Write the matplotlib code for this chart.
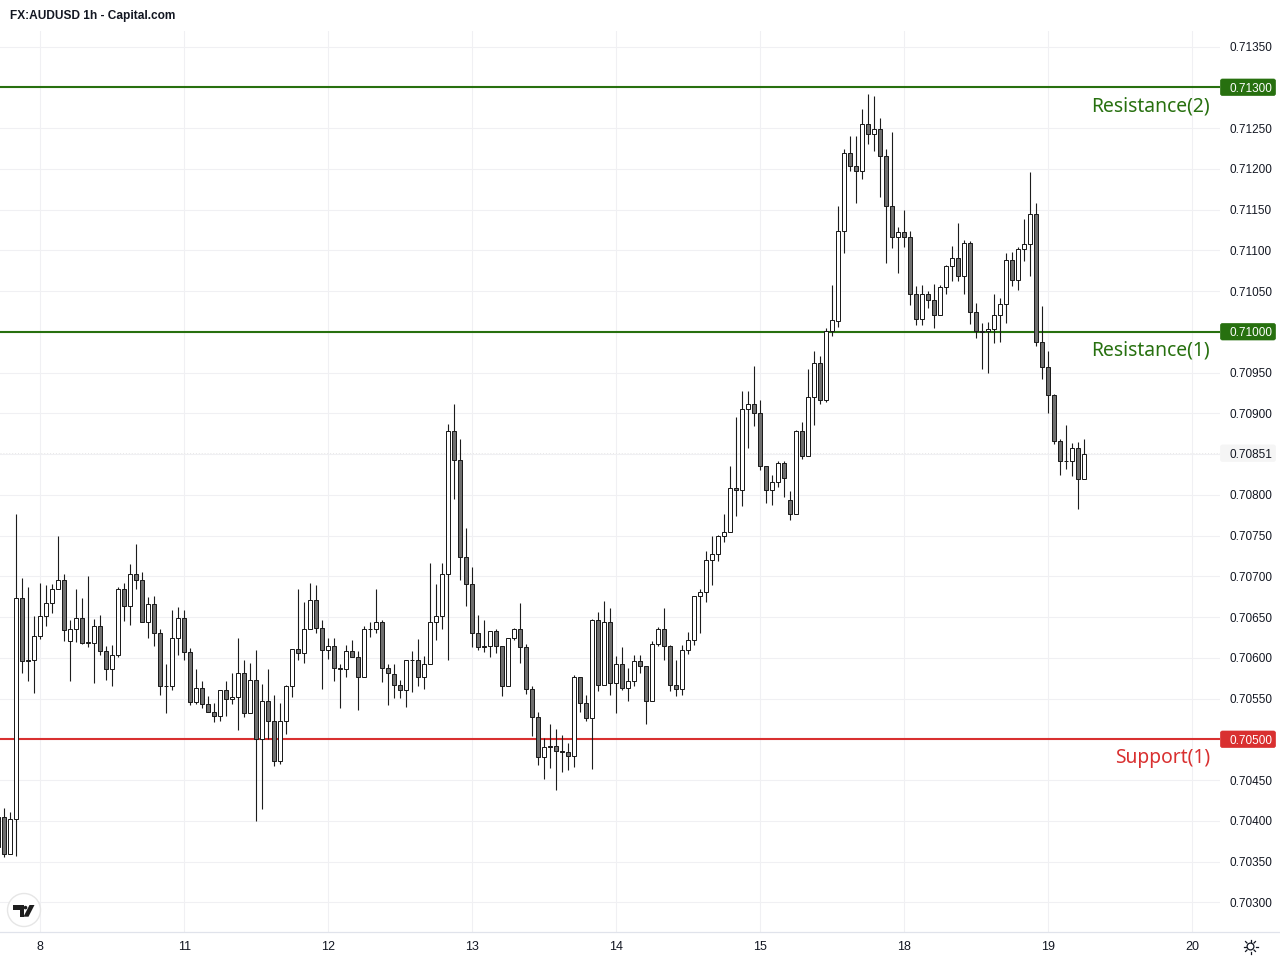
import numpy as np
import matplotlib
matplotlib.use("Agg")
import matplotlib.pyplot as plt
from matplotlib.patches import Circle, FancyBboxPatch, Polygon
from matplotlib.lines import Line2D
from matplotlib.transforms import Affine2D

TITLE = "FX:AUDUSD 1h - Capital.com"
BASE = 0.70
PIP = 1e-5

# Prices in 1e-5 units above 0.70000, one value per hourly candle
highs = [415,416,411,777,698,687,651,692,690,691,749,703,647,685,674,701,648,653,615,616,687,692,715,740,706,675,676,636,593,659,663,659,612,586,572,553,545,561,572,582,624,598,594,610,568,586,555,545,567,611,685,668,692,690,646,625,624,593,616,622,609,639,644,685,647,593,
 592,573,598,609,623,602,716,691,716,887,911,868,759,711,653,647,633,636,615,625,637,667,617,566,534,502,519,513,505,495,579,
 577,555,648,656,670,661,602,613,588,604,604,590,621,638,661,616,598,616,632,676,685,731,749,751,776,
 836,895,927,927,958,917,835,825,841,841,805,880,889,954,977,971,1005,1057,
 1154,1225,1240,1240,1274,1292,1289,1263,1225,1245,1129,1149,1124,1056,1058,1050,1059,1058,1082,1106,1134,1113,1111,1035,
 1011,1012,1046,1042,1097,1098,1104,1138,1196,1158,1032,977,924,868,886,864,865,868]
body_tops = [405,405,402,674,674,598,627,651,667,684,696,696,635,649,649,620,639,639,609,604,685,685,703,703,696,666,666,631,566,624,649,649,607,563,563,544,534,561,561,552,582,582,573,573,547,547,522,522,565,611,611,635,671,671,637,615,615,588,609,609,601,635,636,644,644,587,
 580,567,597,598,598,593,644,652,703,878,878,843,724,691,631,614,633,633,615,624,635,635,613,562,527,491,492,492,486,484,577,
 576,545,647,647,644,644,593,593,572,596,596,590,617,636,636,614,567,610,622,676,681,720,727,750,755,
 809,809,906,912,912,900,835,816,839,839,794,879,879,920,962,962,1001,1014,
 1124,1219,1219,1204,1255,1255,1249,1249,1216,1154,1122,1122,1117,1046,1046,1046,1039,1055,1081,1091,1091,1109,1109,1025,
 1001,1004,1021,1034,1088,1088,1102,1108,1145,1145,987,957,923,866,842,858,858,850]
body_bots = [368,360,360,402,596,596,598,627,651,667,685,634,621,636,618,618,618,609,586,586,604,664,664,696,644,644,631,566,566,566,624,607,546,546,544,534,529,529,550,550,552,533,533,501,501,522,473,473,522,566,606,606,635,637,610,610,588,586,586,601,577,577,635,635,587,581,
 567,561,561,597,576,576,593,644,652,703,843,724,691,631,613,613,614,615,565,565,624,613,562,527,478,478,491,486,484,480,480,
 545,526,526,567,567,569,569,563,563,572,590,547,547,617,614,567,562,562,610,622,676,681,720,727,750,
 755,806,806,906,900,835,806,806,816,821,776,776,848,848,920,917,917,1001,
 1013,1124,1204,1197,1197,1243,1243,1216,1154,1116,1116,1116,1046,1016,1016,1039,1021,1021,1055,1081,1068,1068,1025,1001,
 1000,1001,1003,1021,1034,1064,1064,1102,1108,987,957,923,866,842,841,841,820,820]
lows = [360,356,360,357,582,572,557,623,639,655,685,621,572,620,617,613,569,604,573,565,601,645,640,685,644,625,614,555,532,561,603,597,542,543,539,534,521,523,529,543,511,528,533,400,415,500,467,470,507,552,597,594,635,631,562,599,572,538,577,601,536,577,626,630,570,542,
 551,551,540,558,565,562,593,622,636,597,795,696,664,613,610,607,601,606,553,565,622,594,556,504,468,451,465,438,460,462,466,
 534,522,464,559,567,555,533,561,547,566,581,519,547,615,598,560,553,555,605,616,630,669,690,719,742,
 755,774,786,857,885,830,790,787,810,797,769,776,844,848,886,911,914,995,
 1006,1097,1197,1158,1188,1230,1222,1165,1084,1103,1072,1104,1033,1008,1008,1029,1005,1021,1046,1062,1062,1047,1010,992,
 955,949,986,988,1011,1056,1051,1087,1068,983,942,900,862,825,832,823,783,820]
rising = [0,0,1,1,0,0,1,1,1,1,1,0,1,1,0,0,1,0,0,1,1,0,1,0,0,1,0,0,1,1,1,0,0,1,0,0,0,1,0,1,1,0,1,0,1,0,0,1,1,1,0,1,1,0,0,1,0,0,1,0,0,1,0,1,0,0,
 0,0,1,0,0,1,1,1,1,1,0,0,0,0,0,0,1,0,0,1,1,0,0,0,0,1,0,0,0,0,1,
 0,0,1,0,1,0,1,0,1,1,0,0,1,1,0,0,0,1,1,1,1,1,1,1,1,
 1,0,1,1,0,0,0,1,1,0,0,1,0,1,1,0,1,1,
 1,1,0,0,1,0,1,0,0,0,1,0,0,0,1,0,0,1,1,1,0,1,0,0,
 0,1,1,1,1,0,1,1,1,0,0,0,0,0,0,1,0,1]

day_labels = ["8","11","12","13","14","15","18","19","20"]
day_candles = [6,30,54,78,102,126,150,174,198]
price_ticks = list(range(300,1351,50))
last_price = 851
levels = [1300,1000,500]
level_names = ["Resistance(2)","Resistance(1)","Support(1)"]
level_colors = ["#27700f","#27700f","#d93030"]

FONT = "Liberation Sans"
INK = "#131722"
EDGE = "#1c1c1c"
GRID = "#f0f0f3"

highs, lows, body_tops, body_bots = [np.array(a)*PIP+BASE for a in (highs,lows,body_tops,body_bots)]
rising = np.array(rising,bool)
xs = np.arange(len(highs))-1

fig = plt.figure(figsize=(12.8,9.6),dpi=100,facecolor="white")
px = Affine2D().scale(1,-1).translate(0,960)
ax = fig.add_axes([0,27.6/960,1220/1280,901/960])
ax.set_xlim(-0.717,202.62)
ax.set_ylim(263.2*PIP+BASE,1368.7*PIP+BASE)
ax.patch.set_alpha(0)
for s in ax.spines.values():
    s.set_visible(False)

# grid and axis ticks
yt = price_ticks+[last_price]
ax.yaxis.tick_right()
ax.set_yticks([v*PIP+BASE for v in yt])
ax.set_yticklabels(["" if v==850 else f"{v*PIP+BASE:.5f}" for v in yt],fontfamily=FONT,fontsize=8.45,color=INK)
ax.set_xticks(day_candles)
ax.set_xticklabels(day_labels,fontfamily=FONT,fontsize=9,color=INK)
ax.tick_params(axis="both",length=0)
ax.tick_params(axis="y",pad=7.2)
ax.tick_params(axis="x",pad=6.5)
ax.grid(True,color=GRID,linewidth=0.75)
ax.set_axisbelow(True)
for v,lab,gl in zip(yt,ax.get_yticklabels(),ax.get_ygridlines()):
    if v in levels:
        lab.set_color("white")
    if v==last_price:
        gl.set_linestyle((0,(1,2)))
        gl.set_color("#e8e8e8")
        gl.set_linewidth(0.7)

# level lines, behind the candles
for v,name,c in zip(levels,level_names,level_colors):
    y = v*PIP+BASE
    ax.axhline(y,color=c,linewidth=1.5,zorder=2)
    ax.annotate(name,xy=(1210/1220,y),xycoords=ax.get_yaxis_transform(),
                xytext=(0,-19),textcoords="offset pixels",ha="right",va="center",
                fontfamily="Noto Sans",fontsize=13.9,color=c,zorder=5)

# candles
ax.vlines(xs,lows,highs,color=EDGE,linewidth=0.8,zorder=3)
ax.bar(xs,body_tops-body_bots,bottom=body_bots,width=4/6,
       color=np.where(rising,"#ffffff","#6e6e6e"),edgecolor=EDGE,linewidth=0.72,zorder=4)

# price badges
def badge(v,fc):
    yp = 87+(1300-v)*0.815
    fig.add_artist(FancyBboxPatch((1220.5,yp-8),55,16.5,boxstyle="round,pad=0,rounding_size=2",
        transform=px,fc=fc,ec=fc,lw=0.5,zorder=-1))
for v,c in zip(levels,level_colors):
    badge(v,c)
badge(last_price,"#f5f5f5")

# frame pieces, logo, settings icon
fig.add_artist(Line2D([0,1280],[932,932],transform=px,color="#e0e3eb",linewidth=0.9))
fig.text(10,15.5,TITLE,transform=px,fontfamily=FONT,fontsize=8.55,fontweight="bold",color=INK,va="center")
fig.add_artist(Circle((24,910),16.5,transform=px,fc="white",ec="#e6e6e6",lw=1))
fig.add_artist(Polygon([(13,905),(23.5,905),(23.5,916.7),(19.5,916.7),(19.5,910),(13,910)],transform=px,fc="#1e1e1e",ec="none"))
fig.add_artist(Circle((25.5,907.6),1.8,transform=px,fc="#1e1e1e",ec="none"))
fig.add_artist(Polygon([(29.5,905),(34.5,905),(28.5,916.7),(23.5,916.7)],transform=px,fc="#1e1e1e",ec="none"))
fig.add_artist(Circle((1250.5,946.5),3.4,transform=px,fc="white",ec=INK,lw=0.9))
for a in np.arange(8)*np.pi/4:
    fig.add_artist(Line2D([1250.5+5*np.cos(a),1250.5+7*np.cos(a)],[946.5+5*np.sin(a),946.5+7*np.sin(a)],
                          transform=px,color=INK,linewidth=0.9))

fig.savefig("out.png",dpi=100)
